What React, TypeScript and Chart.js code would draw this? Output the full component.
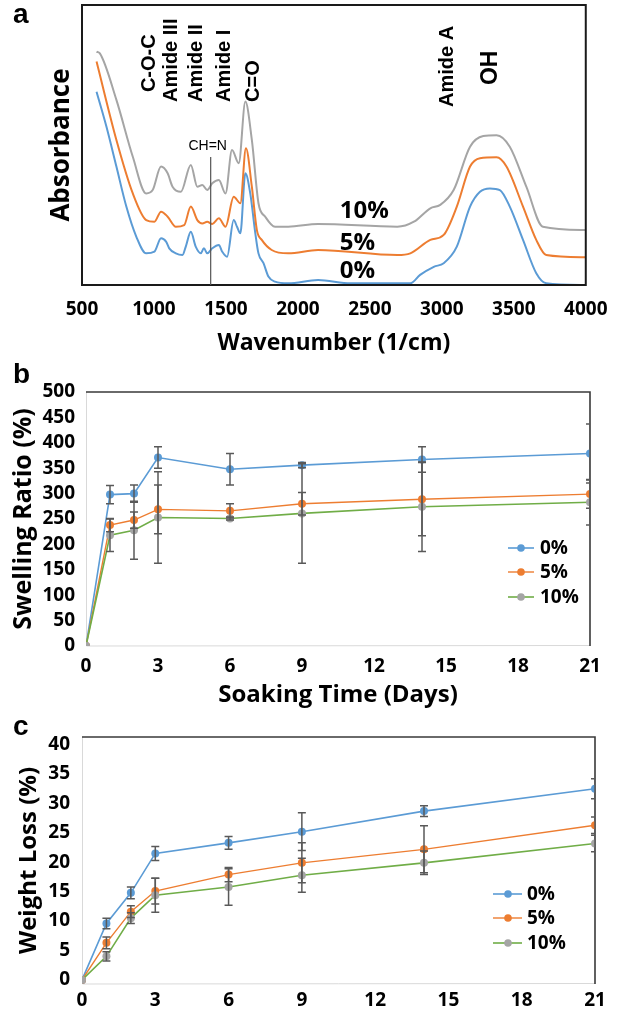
import React, { useEffect, useRef } from "react";
import { Chart, registerables } from "chart.js";
Chart.register(...registerables);

const FONT = "'Open Sans', sans-serif";
const LFONT = "'Liberation Sans', Arial, sans-serif";

// ---------- Panel a: FTIR spectra ----------
const wnTicks = [500, 1000, 1500, 2000, 2500, 3000, 3500, 4000];

const wn10 = [601, 624, 739, 853, 946, 991, 1049, 1095, 1129, 1187, 1256, 1301, 1336, 1370, 1405, 1451, 1497, 1542, 1589, 1635, 1680, 1726, 1773, 1841, 1933, 2140, 2691, 2806, 2920, 2989, 3082, 3196, 3288, 3380, 3472, 3587, 3702, 4000];
const abs10 = [83.3, 82.7, 66.1, 45.8, 32.7, 33.9, 42.3, 39.9, 35.1, 33.3, 42.9, 35.1, 35.7, 33.9, 36.3, 37.5, 32.7, 48.2, 43.5, 65.5, 51.8, 29.2, 24.4, 20.8, 20.8, 21.8, 20.8, 22.6, 27.4, 28.6, 33.9, 49.4, 53.2, 53.5, 49.4, 35.1, 20.8, 19.6];

const wn5 = [601, 739, 853, 946, 1003, 1049, 1095, 1152, 1210, 1256, 1301, 1336, 1370, 1405, 1451, 1497, 1554, 1600, 1639, 1680, 1715, 1749, 1818, 1933, 2140, 2691, 2781, 2920, 3013, 3104, 3196, 3265, 3380, 3449, 3564, 3656, 3725, 4000];
const abs5 = [79.8, 51.8, 32.7, 23.2, 22.6, 26.2, 24.4, 20.8, 21.4, 28.0, 23.2, 22.0, 22.6, 21.8, 23.8, 20.8, 31.5, 29.2, 48.8, 35.1, 19.6, 16.1, 12.5, 11.3, 12.5, 10.7, 11.3, 16.1, 17.9, 28.0, 42.3, 45.3, 45.6, 42.3, 28.0, 16.1, 10.7, 9.9];

const wn0 = [601, 670, 739, 808, 877, 946, 1003, 1049, 1084, 1106, 1152, 1198, 1221, 1256, 1290, 1325, 1347, 1370, 1405, 1451, 1474, 1508, 1554, 1577, 1600, 1635, 1669, 1704, 1726, 1761, 1795, 1841, 1933, 2140, 2367, 2781, 2849, 2944, 3013, 3104, 3196, 3265, 3334, 3403, 3472, 3564, 3656, 3725, 4000];
const abs0 = [69.0, 56.5, 42.3, 28.0, 17.3, 11.3, 11.9, 16.7, 15.5, 13.1, 11.3, 10.7, 13.7, 19.0, 13.7, 11.3, 13.1, 11.3, 13.1, 14.3, 11.9, 10.1, 23.2, 20.8, 18.5, 39.9, 32.7, 18.5, 11.3, 7.8, 3.0, 1.2, 0.6, 1.8, 0.6, 0.6, 3.6, 6.5, 7.8, 13.7, 28.0, 33.3, 34.5, 33.9, 28.0, 16.1, 4.2, 0.6, 0.0];

const peakLabels = ["C-O-C", "Amide III", "Amide II", "Amide I", "C=O", "Amide A"];
const peakWn = [968, 1124, 1296, 1489, 1689, 3036];
const peakStart = [68.9, 65.4, 65.4, 65.4, 65.4, 63.6];
const ohLabel = "OH";
const ohWn = 3339;
const ohStart = 71.4;
const chnLabel = "CH=N";
const chnWn = 1394;
const chnTop = 45.7;
const chnLabelY = 49.6;
const pctLabels = ["10%", "5%", "0%"];
const pctWn = 2291;
const pctY = [26.4, 15.0, 5.0];

// ---------- Panels b, c ----------
const seriesNames = ["0%", "5%", "10%"];
const days = [0, 1, 2, 3, 6, 9, 14, 21];
const dayTicks = [0, 3, 6, 9, 12, 15, 18, 21];

const swell0 = [0, 298, 300, 371, 348, 356, 367, 379];
const swell5 = [0, 238, 248, 269, 266, 280, 289, 299];
const swell10 = [0, 218, 228, 253, 251, 261, 274, 283];
const swellErr0 = [0, 18, 17, 21, 31, 5, 25, 58];
const swellErr5 = [0, 13, 16, 48, 14, 22, 72, 28];
const swellErr10 = [0, 32, 57, 90, 3, 98, 88, 45];

const loss0 = [0, 9.6, 14.8, 21.5, 23.3, 25.2, 28.7, 32.5];
const loss5 = [0, 6.3, 11.6, 15.1, 17.9, 19.9, 22.2, 26.3];
const loss10 = [0, 4.0, 10.5, 14.4, 15.8, 17.8, 19.9, 23.2];
const lossErr0 = [0, 0.9, 1.0, 1.2, 1.1, 3.2, 0.9, 1.7];
const lossErr5 = [0, 1.0, 1.0, 2.2, 1.2, 3.4, 4.0, 1.4];
const lossErr10 = [0, 0.8, 0.9, 2.9, 3.1, 2.9, 2.0, 1.4];
const lossTicks = [0, 5, 10, 15, 20, 25, 30, 35, 40];

const BLUE = "#5B9BD5";
const ORANGE = "#ED7D31";
const GREEN = "#70AD47";
const GRAY = "#A5A5A5";
const lineColors = [BLUE, ORANGE, GREEN];
const markerColors = [BLUE, ORANGE, GRAY];

const pts = (xs: number[], ys: number[]) => xs.map((x, i) => ({ x, y: ys[i] }));
const plain = (v: any) => String(v);

const tickFont = { family: FONT, size: 19, weight: "bold" as const, lineHeight: 1 };

function letterPlugin(letter: string, baseline: number) {
  return {
    id: "letter" + letter,
    afterDraw(chart: any) {
      const ctx = chart.ctx;
      ctx.save();
      ctx.font = `bold 28px ${LFONT}`;
      ctx.fillStyle = "#000";
      ctx.textAlign = "left";
      ctx.textBaseline = "alphabetic";
      ctx.fillText(letter, 13, baseline);
      ctx.restore();
    },
  };
}

const framePlugin = {
  id: "frame",
  beforeDatasetsDraw(chart: any) {
    const { ctx, chartArea } = chart;
    const { left, right, top, bottom } = chartArea;
    ctx.save();
    ctx.strokeStyle = "#d9d9d9";
    ctx.lineWidth = 1;
    ctx.beginPath();
    ctx.moveTo(left + 0.5, top);
    ctx.lineTo(left + 0.5, bottom);
    ctx.lineTo(right, bottom - 0.5);
    ctx.stroke();
    ctx.strokeStyle = "#3a3a3a";
    ctx.lineWidth = 1.6;
    ctx.beginPath();
    ctx.moveTo(left, top);
    ctx.lineTo(right, top);
    ctx.lineTo(right, bottom);
    ctx.stroke();
    ctx.restore();
  },
};

const errorBarPlugin = {
  id: "errbars",
  afterDatasetsDraw(chart: any) {
    const { ctx, chartArea, scales } = chart;
    const xs = scales.x;
    const ys = scales.y;
    ctx.save();
    ctx.beginPath();
    ctx.rect(chartArea.left, chartArea.top - 1, chartArea.right - chartArea.left, chartArea.bottom - chartArea.top + 2);
    ctx.clip();
    ctx.strokeStyle = "#595959";
    ctx.lineWidth = 1.5;
    chart.data.datasets.forEach((ds: any) => {
      const errs: number[] = ds.errors;
      if (!errs) return;
      ds.data.forEach((p: any, i: number) => {
        const e = errs[i];
        if (!e) return;
        const px = xs.getPixelForValue(p.x);
        const y1 = ys.getPixelForValue(p.y + e);
        const y2 = ys.getPixelForValue(p.y - e);
        ctx.beginPath();
        ctx.moveTo(px, y1);
        ctx.lineTo(px, y2);
        ctx.moveTo(px - 4, y1);
        ctx.lineTo(px + 4, y1);
        ctx.moveTo(px - 4, y2);
        ctx.lineTo(px + 4, y2);
        ctx.stroke();
      });
    });
    ctx.restore();
  },
};

function legendPlugin(x0: number, x1: number, xm: number, xt: number, rows: number[]) {
  return {
    id: "customLegend",
    afterDraw(chart: any) {
      const ctx = chart.ctx;
      ctx.save();
      chart.data.datasets.forEach((ds: any, i: number) => {
        const y = rows[i];
        ctx.strokeStyle = ds.borderColor;
        ctx.lineWidth = ds.borderWidth;
        ctx.beginPath();
        ctx.moveTo(x0, y);
        ctx.lineTo(x1, y);
        ctx.stroke();
        ctx.fillStyle = ds.pointBackgroundColor;
        ctx.beginPath();
        ctx.arc(xm, y, 3.8, 0, Math.PI * 2);
        ctx.fill();
        ctx.fillStyle = "#000";
        ctx.font = `bold 19px ${FONT}`;
        ctx.textAlign = "left";
        ctx.textBaseline = "middle";
        ctx.fillText(ds.label, xt, y + 1);
      });
      ctx.restore();
    },
  };
}

function timeDatasets(vals: number[][], errs: number[][]) {
  return vals.map((v, i) => ({
    label: seriesNames[i],
    data: pts(days, v),
    errors: errs[i],
    borderColor: lineColors[i],
    borderWidth: i === 1 ? 1.4 : 1.6,
    pointBackgroundColor: markerColors[i],
    pointBorderColor: markerColors[i],
    pointRadius: 4,
    pointBorderWidth: 0,
    tension: 0,
    order: 2 - i,
  }));
}

function configA() {
  const spectra = [
    { label: "10%", data: pts(wn10, abs10), borderColor: GRAY },
    { label: "5%", data: pts(wn5, abs5), borderColor: ORANGE },
    { label: "0%", data: pts(wn0, abs0), borderColor: BLUE },
  ].map((d) => ({ ...d, borderWidth: 2, pointRadius: 0, cubicInterpolationMode: "monotone" as const, fill: false }));

  const annot = {
    id: "annotA",
    afterDraw(chart: any) {
      const { ctx, chartArea, scales } = chart;
      const xs = scales.x;
      const ys = scales.y;
      ctx.save();
      ctx.strokeStyle = "#1a1a1a";
      ctx.lineWidth = 2;
      ctx.strokeRect(chartArea.left, chartArea.top, chartArea.right - chartArea.left, chartArea.bottom - chartArea.top);
      const lx = xs.getPixelForValue(chnWn);
      ctx.strokeStyle = "#555";
      ctx.lineWidth = 1.2;
      ctx.beginPath();
      ctx.moveTo(lx, ys.getPixelForValue(chnTop));
      ctx.lineTo(lx, chartArea.bottom);
      ctx.stroke();
      ctx.fillStyle = "#000";
      ctx.font = `14px ${LFONT}`;
      ctx.textAlign = "center";
      ctx.textBaseline = "middle";
      ctx.fillText(chnLabel, xs.getPixelForValue(chnWn) - 3, ys.getPixelForValue(chnLabelY));
      const rot = (txt: string, wn: number, start: number, size: number) => {
        ctx.save();
        ctx.translate(xs.getPixelForValue(wn), ys.getPixelForValue(start));
        ctx.rotate(-Math.PI / 2);
        ctx.font = `bold ${size}px ${LFONT}`;
        ctx.textAlign = "left";
        ctx.textBaseline = "middle";
        ctx.fillText(txt, 0, 0);
        ctx.restore();
      };
      peakLabels.forEach((t, i) => rot(t, peakWn[i], peakStart[i], 20));
      rot(ohLabel, ohWn, ohStart, 23);
      ctx.font = `bold 24px ${FONT}`;
      ctx.textAlign = "left";
      ctx.textBaseline = "middle";
      pctLabels.forEach((t, i) => ctx.fillText(t, xs.getPixelForValue(pctWn), ys.getPixelForValue(pctY[i])));
      ctx.restore();
    },
  };

  return {
    type: "line" as const,
    data: { datasets: spectra },
    options: {
      responsive: false,
      animation: false as const,
      layout: { padding: { left: 0, right: 33, top: 5, bottom: 0 } },
      plugins: { legend: { display: false }, tooltip: { enabled: false } },
      scales: {
        x: {
          type: "linear" as const,
          min: 500,
          max: 4000,
          afterBuildTicks: (s: any) => { s.ticks = wnTicks.map((v) => ({ value: v })); },
          afterFit: (s: any) => { s.height = 73; },
          grid: { display: false, drawTicks: false },
          border: { display: false },
          ticks: { font: tickFont, color: "#000", padding: 15.5, maxRotation: 0, callback: plain },
          title: { display: true, text: "Wavenumber (1/cm)", color: "#000", font: { family: FONT, size: 23, weight: "bold" as const, lineHeight: 1 }, padding: { top: 0, bottom: 3.5 } },
        },
        y: {
          min: 0,
          max: 100,
          afterFit: (s: any) => { s.width = 82; },
          grid: { display: false, drawTicks: false },
          border: { display: false },
          ticks: { display: false },
          title: { display: true, text: "Absorbance", color: "#000", font: { family: FONT, size: 26, weight: "bold" as const, lineHeight: 1 }, padding: { top: 49, bottom: 0 } },
        },
      },
    },
    plugins: [annot, letterPlugin("a", 23)],
  };
}

function configB() {
  return {
    type: "line" as const,
    data: { datasets: timeDatasets([swell0, swell5, swell10], [swellErr0, swellErr5, swellErr10]) },
    options: {
      responsive: false,
      animation: false as const,
      layout: { padding: { left: 0, right: 33, top: 34, bottom: 0 } },
      plugins: { legend: { display: false }, tooltip: { enabled: false } },
      scales: {
        x: {
          type: "linear" as const,
          min: 0,
          max: 21,
          afterBuildTicks: (s: any) => { s.ticks = dayTicks.map((v) => ({ value: v })); },
          afterFit: (s: any) => { s.height = 64; },
          grid: { display: false, drawTicks: false },
          border: { display: false },
          ticks: { font: tickFont, color: "#000", padding: 11.5, maxRotation: 0, callback: plain },
          title: { display: true, text: "Soaking Time (Days)", color: "#000", font: { family: FONT, size: 24, weight: "bold" as const, lineHeight: 1 }, padding: { top: 0, bottom: 3 } },
        },
        y: {
          min: 0,
          max: 500,
          afterFit: (s: any) => { s.width = 86; },
          grid: { display: false, drawTicks: false },
          border: { display: false },
          ticks: { font: tickFont, color: "#000", padding: 11, stepSize: 50, callback: plain },
          title: { display: true, text: "Swelling Ratio (%)", color: "#000", font: { family: FONT, size: 25, weight: "bold" as const, lineHeight: 1 }, padding: { top: 11, bottom: 0 } },
        },
      },
    },
    plugins: [framePlugin, errorBarPlugin, legendPlugin(508, 534, 521, 540, [190, 214, 239]), letterPlugin("b", 25)],
  };
}

function configC() {
  return {
    type: "line" as const,
    data: { datasets: timeDatasets([loss0, loss5, loss10], [lossErr0, lossErr5, lossErr10]) },
    options: {
      responsive: false,
      animation: false as const,
      layout: { padding: { left: 0, right: 28, top: 27, bottom: 0 } },
      plugins: { legend: { display: false }, tooltip: { enabled: false } },
      scales: {
        x: {
          type: "linear" as const,
          min: 0,
          max: 21,
          afterBuildTicks: (s: any) => { s.ticks = dayTicks.map((v) => ({ value: v })); },
          afterFit: (s: any) => { s.height = 26; },
          grid: { display: false, drawTicks: false },
          border: { display: false },
          ticks: { font: tickFont, color: "#000", padding: 7.5, maxRotation: 0, callback: plain },
        },
        y: {
          min: -0.7,
          max: 41.3,
          afterBuildTicks: (s: any) => { s.ticks = lossTicks.map((v) => ({ value: v })); },
          afterFit: (s: any) => { s.width = 82; },
          grid: { display: false, drawTicks: false },
          border: { display: false },
          ticks: { font: tickFont, color: "#000", padding: 12, callback: plain },
          title: { display: true, text: "Weight Loss (%)", color: "#000", font: { family: FONT, size: 24, weight: "bold" as const, lineHeight: 1 }, padding: { top: 17.5, bottom: 0 } },
        },
      },
    },
    plugins: [framePlugin, errorBarPlugin, legendPlugin(493, 522, 508, 527, [184, 208, 233]), letterPlugin("c", 25)],
  };
}

function ChartCanvas({ top, height, make }: { top: number; height: number; make: () => any }) {
  const ref = useRef<HTMLCanvasElement>(null);
  useEffect(() => {
    const chart = new Chart(ref.current as HTMLCanvasElement, make());
    return () => chart.destroy();
  }, []);
  return (
    <canvas
      ref={ref}
      width={623}
      height={height}
      style={{ position: "absolute", left: 0, top, width: 623, height, display: "block" }}
    />
  );
}

export default function App() {
  return (
    <div style={{ position: "absolute", left: 0, top: 0, width: 623, height: 1010, background: "#fff", overflow: "hidden" }}>
      <ChartCanvas top={0} height={358} make={configA} />
      <ChartCanvas top={358} height={352} make={configB} />
      <ChartCanvas top={710} height={300} make={configC} />
    </div>
  );
}
